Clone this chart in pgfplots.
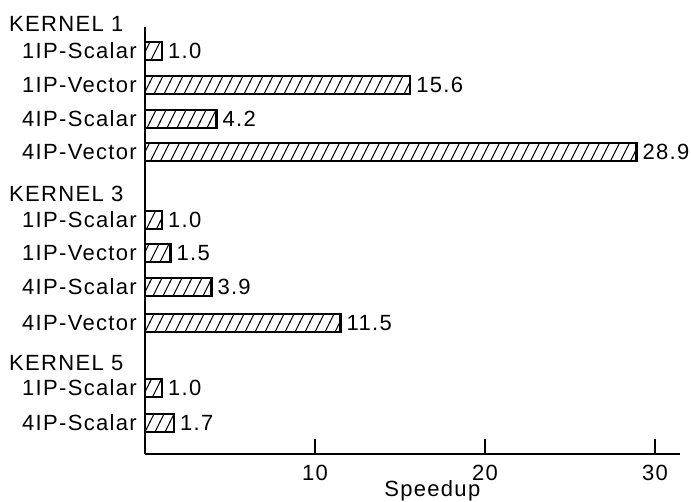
\documentclass[border=0pt]{standalone}
\usepackage{pgfplots}
\pgfplotsset{compat=1.18}
\usepackage{pgfplotstable}
\usepackage{fontspec}
\setmainfont{Liberation Sans}[LetterSpace=6]
\usetikzlibrary{patterns}
\pgfdeclarepatternformonly{hatch}{\pgfqpoint{-1pt}{-1pt}}{\pgfqpoint{11pt}{21pt}}{\pgfqpoint{10pt}{20pt}}{%
  \pgfsetlinewidth{1pt}%
  \pgfpathmoveto{\pgfqpoint{-0.5pt}{-1pt}}%
  \pgfpathlineto{\pgfqpoint{10.5pt}{21pt}}%
  \pgfusepath{stroke}}

\pgfplotstableread{
x y label
1.0 -51 1.0
15.6 -85 15.6
4.2 -119 4.2
28.9 -152 28.9
1.0 -220 1.0
1.5 -253 1.5
3.9 -287 3.9
11.5 -323 11.5
1.0 -388 1.0
1.7 -423 1.7
}\speedup

\begin{document}
\fontsize{22}{26}\selectfont
\begin{tikzpicture}
\useasboundingbox (0,0) rectangle (691pt,502pt);
\begin{axis}[
  at={(145pt,48pt)}, anchor=south west,
  scale only axis,
  width=535pt, height=427pt,
  xmin=0, xmax=31.47,
  ymin=-454, ymax=-27,
  axis x line=bottom, axis y line=left,
  axis line style={-, line width=2.8pt},
  xtick={10,20,30},
  tick align=inside,
  major tick length=15pt,
  xtick style={line width=2.8pt, black},
  ytick style={draw=none},
  /pgf/number format/assume math mode=true,
  xticklabel style={anchor=base, yshift=-27pt, inner sep=0pt},
  ytick={-51,-85,-119,-152,-220,-253,-287,-323,-388,-423},
  yticklabels={1IP-Scalar,1IP-Vector,4IP-Scalar,4IP-Vector,1IP-Scalar,1IP-Vector,4IP-Scalar,4IP-Vector,1IP-Scalar,4IP-Scalar},
  yticklabel style={anchor=east, inner sep=0pt, xshift=7pt},
  xbar, bar width=18,
  clip=false,
  font=\fontsize{22}{26}\selectfont,
  ticklabel style={font=\fontsize{22}{26}\selectfont},
  nodes near coords,
  point meta=explicit symbolic,
  every node near coord/.append style={anchor=west, inner sep=0pt, xshift=5pt, font=\fontsize{22}{26}\selectfont},
]
\addplot[draw=black, line width=2.4pt, pattern=hatch, pattern color=black] table[x=x, y=y, meta=label] {\speedup};
\node[anchor=base west, inner sep=0pt] at (axis cs:-8,-31.7) {KERNEL 1};
\node[anchor=base west, inner sep=0pt] at (axis cs:-8,-202) {KERNEL 3};
\node[anchor=base west, inner sep=0pt] at (axis cs:-8,-371) {KERNEL 5};
\node[anchor=base, inner sep=0pt] at (axis cs:16.9,-497) {Speedup};
\end{axis}
\end{tikzpicture}
\end{document}
